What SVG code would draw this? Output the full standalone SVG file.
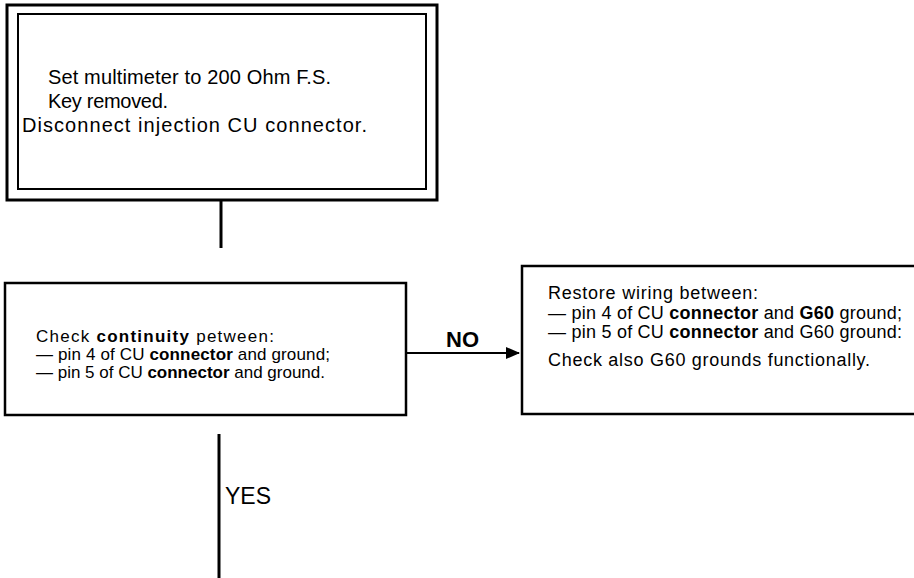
<svg xmlns="http://www.w3.org/2000/svg" width="914" height="578" viewBox="0 0 914 578">
<defs>
<style>
.t{font-family:"Liberation Sans",Arial,sans-serif;fill:#000}
.box{fill:none;stroke:#000}
.ln{stroke:#000;fill:none}
.b{font-weight:bold}
</style>
<marker id="ah" markerWidth="14" markerHeight="12" refX="13" refY="6" orient="auto" markerUnits="userSpaceOnUse">
<path d="M0,0 L14,6 L0,12 Z" fill="#000"/>
</marker>
</defs>
<rect width="914" height="578" fill="#fff"/>
<g id="start">
<rect class="box" x="7" y="5" width="430" height="195" stroke-width="3"/>
<rect class="box" x="18" y="14" width="408" height="175" stroke-width="2"/>
<text class="t" font-size="20" x="48" y="84" textLength="283" lengthAdjust="spacing">Set multimeter to 200 Ohm F.S.</text>
<text class="t" font-size="20" x="48" y="108" textLength="120" lengthAdjust="spacing">Key removed.</text>
<text class="t" font-size="20" x="22" y="132" textLength="345" lengthAdjust="spacing">Disconnect  injection CU connector.</text>
</g>
<g id="check">
<rect class="box" x="5" y="283" width="401" height="132" stroke-width="2.5"/>
<text class="t" font-size="17" x="36" y="342" textLength="238" lengthAdjust="spacing">Check <tspan class="b">continuity</tspan> petween:</text>
<text class="t" font-size="17" x="36" y="360" textLength="294" lengthAdjust="spacing">— pin 4 of CU <tspan class="b">connector</tspan> and ground;</text>
<text class="t" font-size="17" x="36" y="378" textLength="289" lengthAdjust="spacing">— pin 5 of CU <tspan class="b">connector</tspan> and ground.</text>
</g>
<g id="restore">
<rect class="box" x="522" y="266" width="400" height="148" stroke-width="2.5"/>
<text class="t" font-size="18" x="548" y="299" textLength="210" lengthAdjust="spacing">Restore wiring between:</text>
<text class="t" font-size="18" x="548" y="319" textLength="354" lengthAdjust="spacing">— pin 4 of CU <tspan class="b">connector</tspan> and <tspan class="b">G60</tspan> ground;</text>
<text class="t" font-size="18" x="548" y="338" textLength="354" lengthAdjust="spacing">— pin 5 of CU <tspan class="b">connector</tspan> and G60 ground:</text>
<text class="t" font-size="18" x="548" y="366" textLength="322" lengthAdjust="spacing">Check also G60 grounds functionally.</text>
</g>
<g id="connectors">
<line class="ln" x1="221" y1="200" x2="221" y2="248" stroke-width="3"/>
<line class="ln" x1="406" y1="353" x2="519" y2="353" stroke-width="2" marker-end="url(#ah)"/>
<line class="ln" x1="219" y1="434" x2="219" y2="578" stroke-width="3"/>
<text class="t b" font-size="22" x="446" y="347">NO</text>
<text class="t" font-size="23" x="225" y="504">YES</text>
</g>
</svg>
